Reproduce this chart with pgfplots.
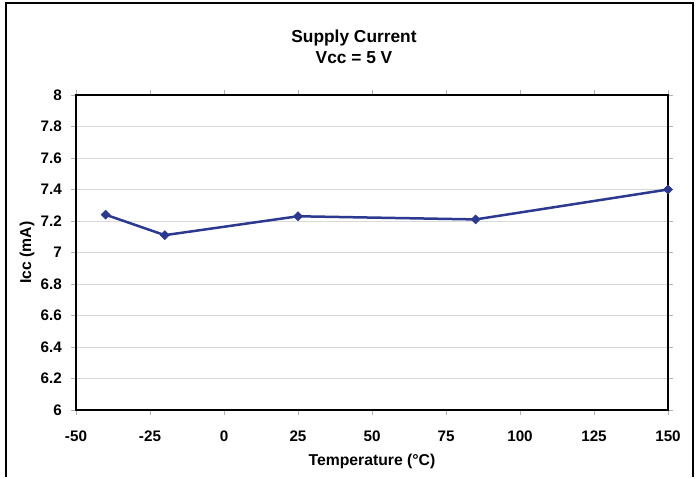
\documentclass[border=0pt]{standalone}
\usepackage{pgfplots}
\pgfplotsset{compat=1.18}
\usepackage{fontspec}
\setmainfont{Liberation Sans}
\definecolor{serblue}{RGB}{43,57,144}
\definecolor{gridgray}{RGB}{217,217,217}
\begin{document}
\begin{tikzpicture}
  % page size and the outer chart frame (bottom edge falls off the page)
  \path (0,0) rectangle (699bp,477bp);
  \draw[line width=2.5bp] (6bp,0) -- (6bp,474bp) -- (693bp,474bp) -- (693bp,0);
  \node[align=center, font=\fontsize{17.4}{21}\selectfont\bfseries] at (354bp,430.5bp)
    {Supply Current\\Vcc = 5 V};
  \begin{axis}[
    at={(76bp,67bp)}, anchor=south west,
    scale only axis,
    width=592bp, height=315bp,
    xmin=-50, xmax=150, ymin=6, ymax=8,
    xtick={-50,-25,...,150},
    ytick={6,6.2,...,8.01},
    ymajorgrids,
    major grid style={gridgray, line width=0.8bp},
    axis line style={line width=1.4bp},
    tick align=outside,
    major tick length=5bp,
    tick style={gray!60, line width=0.8bp},
    /pgf/number format/assume math mode=true,
    ticklabel style={font=\fontsize{15.3}{17}\selectfont\bfseries, inner sep=0pt},
    xticklabel style={anchor=center, yshift=-21.5bp},
    yticklabel style={anchor=east, xshift=-9bp},
    xlabel={Temperature (°C)},
    ylabel={Icc (mA)},
    label style={font=\fontsize{15.8}{18}\selectfont\bfseries},
    xlabel style={at={(axis description cs:0.5,-0.162)}, anchor=center},
    ylabel style={at={(axis description cs:-0.0828,0.5)}, anchor=center},
    clip=false,
  ]
    \addplot[serblue, line width=2.5bp, mark=square*, mark size=3.2bp,
      mark options={rotate=45, fill=serblue, line width=0.5bp}]
      coordinates {(-40,7.24) (-20,7.11) (25,7.23) (85,7.21) (150,7.40)};
  \end{axis}
\end{tikzpicture}
\end{document}
